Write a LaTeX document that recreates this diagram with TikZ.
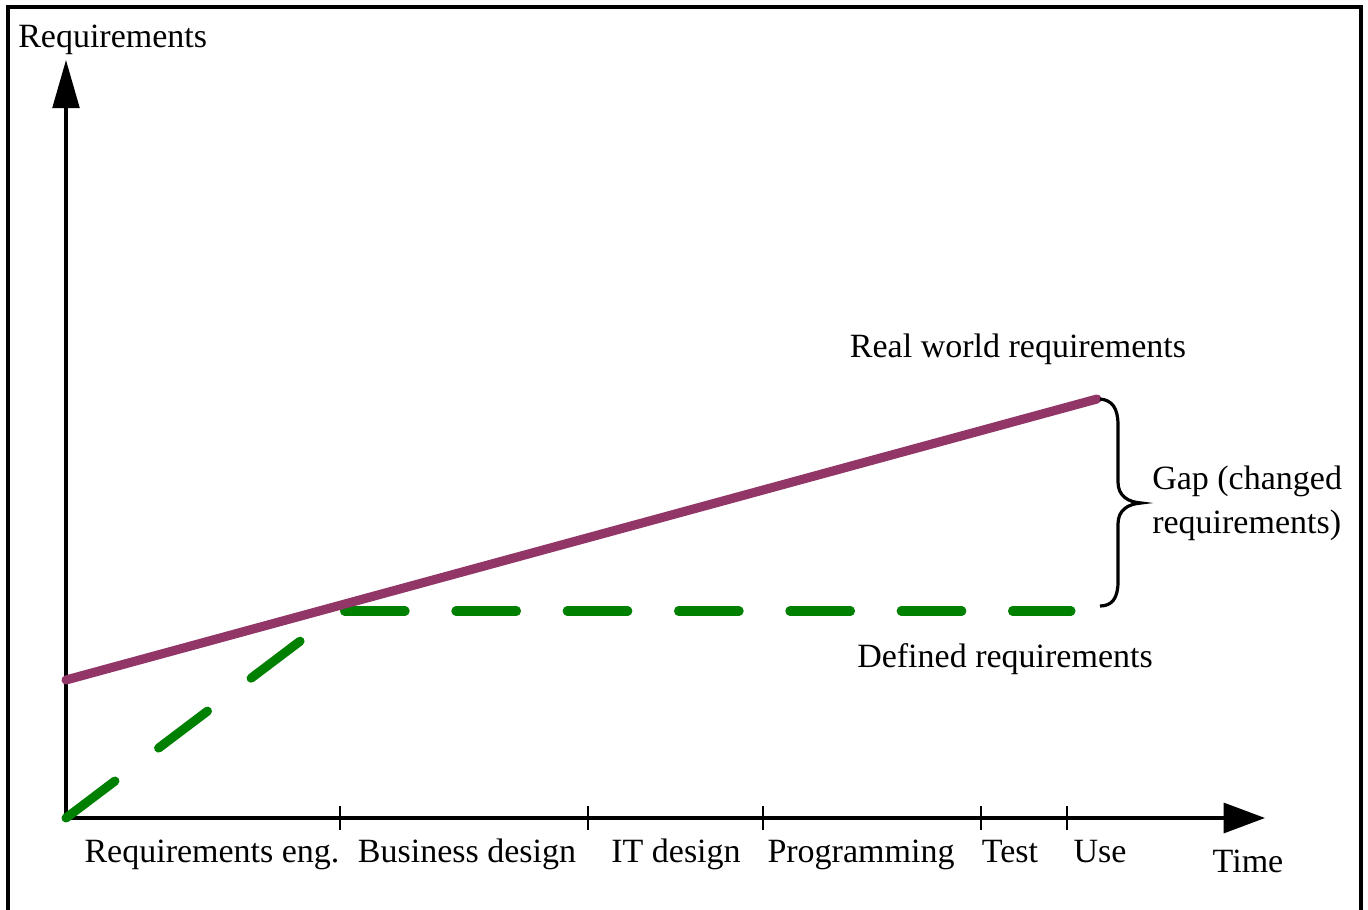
\documentclass[tikz,border=0pt]{standalone}
\usepackage{fontspec}
\setmainfont{Liberation Serif}
\usetikzlibrary{arrows.meta}
\definecolor{realreq}{RGB}{146,54,104}
\definecolor{defreq}{RGB}{0,128,0}
\tikzset{
  axis/.style={line width=2.4pt},
  lbl/.style={font=\fontsize{25.5}{33}\selectfont, inner sep=0pt, anchor=base},
  tickmark/.style={line width=2.2pt},
  realline/.style={line width=6.8pt, draw=realreq, line cap=round},
  defline/.style={line width=6.8pt, draw=defreq, line cap=round},
  bracestyle/.style={line width=2.4pt}
}
\begin{document}
\begin{tikzpicture}[x=0.75pt, y=-0.75pt]
  \useasboundingbox (0,0) rectangle (1368,910);
  % open frame
  \draw[line width=2.4pt] (8,910) -- (8,7) -- (1361,7) -- (1361,910);

  % key points
  \coordinate (O) at (66,818);
  \coordinate (ytip) at (66,60);
  \coordinate (xtip) at (1265,818);
  \coordinate (realstart) at (66,680);
  \coordinate (realend) at (1097,399);
  \coordinate (defcorner) at (340,611);
  \coordinate (defh0) at (344.5,611);
  \coordinate (defend) at (1071,611);
  \coordinate (bracetop) at (1100,399);
  \coordinate (bracebot) at (1100,606);

  % axes
  \draw[axis, -{Triangle[length=36pt, width=20pt]}] (O) -- (ytip);
  \draw[axis, -{Triangle[length=31pt, width=22.5pt]}] (O) -- (xtip);

  % phase ticks
  \foreach \x in {340,588,763,981,1067}
    \draw[tickmark] (\x,806) -- (\x,830);

  % defined requirements (dashed)
  \draw[defline, dash pattern=on 46pt off 41pt] (O) -- (defcorner);
  \draw[defline, dash pattern=on 45.5pt off 38pt] (defh0) -- (defend);

  % real world requirements
  \draw[realline] (realstart) -- (realend);

  % gap brace
  \draw[bracestyle] (bracetop)
    .. controls (1112,400) and (1118,408) .. (1118,425)
    -- (1118,482)
    .. controls (1118,496) and (1128,502) .. (1141,503)
    .. controls (1128,504) and (1118,510) .. (1118,524)
    -- (1118,582)
    .. controls (1118,598) and (1112,606) .. (bracebot);

  % labels
  \node[lbl, anchor=base west] (ylab) at (18,47) {Requirements};
  \node[lbl] (xlab) at (1248,872) {Time};
  \node[lbl] (p1) at (212,862) {Requirements eng.};
  \node[lbl] (p2) at (467,862) {Business design};
  \node[lbl] (p3) at (676,862) {IT design};
  \node[lbl] (p4) at (861,862) {Programming};
  \node[lbl] (p5) at (1010,862) {Test};
  \node[lbl] (p6) at (1100,862) {Use};
  \node[lbl] (reallab) at (1018,357) {Real world requirements};
  \node[lbl] (deflab) at (1005,667) {Defined requirements};
  \node[lbl, anchor=base west] (gap1) at (1152,489) {Gap (changed};
  \node[lbl, anchor=base west] (gap2) at (1152,533) {requirements)};
\end{tikzpicture}
\end{document}
